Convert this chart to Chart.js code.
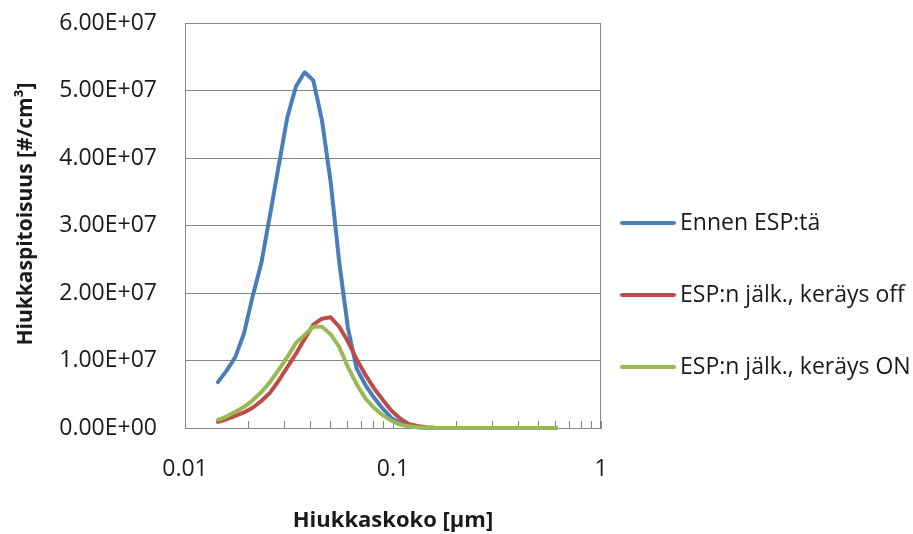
<!DOCTYPE html>
<html>
<head>
<meta charset="utf-8">
<script src="https://cdn.jsdelivr.net/npm/chart.js@4.4.1/dist/chart.umd.min.js"></script>
<style>
  html, body { margin: 0; padding: 0; background: #ffffff; }
  #wrap { width: 913px; height: 534px; }
</style>
</head>
<body>
<div id="wrap"><canvas id="c" width="913" height="534"></canvas></div>
<script>
// Particle size channels [µm]
const sizes = [
  0.01439, 0.01585, 0.01745, 0.01921, 0.02114, 0.02327, 0.02561, 0.02819, 0.03103, 0.03415,
  0.03759, 0.04138, 0.04555, 0.05013, 0.05518, 0.06074, 0.06686, 0.07359, 0.08100, 0.08916,
  0.09814, 0.1080, 0.1189, 0.1309, 0.1440, 0.1585, 0.1745, 0.1921, 0.2114, 0.2327,
  0.2561, 0.2819, 0.3103, 0.3415, 0.3759, 0.4138, 0.4555, 0.5013, 0.5518, 0.6074
];

// Number concentration [#/cm³] before the ESP
const beforeEsp = [
  6.8e6, 8.5e6, 1.05e7, 1.40e7, 1.95e7, 2.44e7, 3.15e7, 3.88e7, 4.60e7, 5.06e7,
  5.27e7, 5.15e7, 4.56e7, 3.65e7, 2.45e7, 1.48e7, 8.8e6, 6.4e6, 4.5e6, 2.9e6,
  1.5e6, 7.0e5, 3.0e5, 1.0e5, 4.0e4, 1.0e4, 0, 0, 0, 0,
  0, 0, 0, 0, 0, 0, 0, 0, 0, 0
];

// After the ESP, collection off
const afterOff = [
  9.0e5, 1.3e6, 1.8e6, 2.3e6, 3.0e6, 4.0e6, 5.2e6, 7.0e6, 9.0e6, 1.10e7,
  1.32e7, 1.53e7, 1.62e7, 1.64e7, 1.50e7, 1.28e7, 1.02e7, 7.9e6, 5.9e6, 4.2e6,
  2.6e6, 1.4e6, 6.0e5, 3.0e5, 1.0e5, 3.0e4, 1.0e4, 0, 0, 0,
  0, 0, 0, 0, 0, 0, 0, 0, 0, 0
];

// After the ESP, collection ON
const afterOn = [
  1.2e6, 1.7e6, 2.4e6, 3.1e6, 4.1e6, 5.3e6, 6.8e6, 8.6e6, 1.05e7, 1.26e7,
  1.38e7, 1.50e7, 1.50e7, 1.39e7, 1.20e7, 9.0e6, 6.5e6, 4.4e6, 3.0e6, 1.9e6,
  1.1e6, 5.0e5, 2.5e5, 1.0e5, 3.0e4, 1.0e4, 0, 0, 0, 0,
  0, 0, 0, 0, 0, 0, 0, 0, 0, 0
];

const seriesNames = ['Ennen ESP:tä', 'ESP:n jälk., keräys off', 'ESP:n jälk., keräys ON'];
const seriesColors = ['#4a7ebb', '#be4b48', '#98b954'];
const xTickLabels = ['0.01', '0.1', '1'];
const xTitle = 'Hiukkaskoko [µm]';
const yTitle = 'Hiukkaspitoisuus [#/cm³]';

const FONT = '"Open Sans", "DejaVu Sans", sans-serif';
const GRID = '#868686';
const TEXT = '#1a1a1a';

function toPoints(values) {
  return sizes.map((s, i) => ({ x: s, y: values[i] }));
}

function expLabel(v) {
  // 6.00E+07 style
  const s = Number(v).toExponential(2).toUpperCase();
  const [m, e] = s.split('E');
  const sign = e[0] === '-' ? '-' : '+';
  const digits = e.replace(/[+-]/, '').padStart(2, '0');
  return m + 'E' + sign + digits;
}

const decorations = {
  id: 'decorations',
  beforeDatasetsDraw(chart) {
    const { ctx, chartArea: a, scales: { x } } = chart;
    ctx.save();
    ctx.strokeStyle = GRID;
    ctx.lineWidth = 1;
    ctx.beginPath();
    // plot frame
    ctx.rect(Math.round(a.left) + 0.5, Math.round(a.top) + 0.5,
             Math.round(a.right - a.left) - 1, Math.round(a.bottom - a.top));
    // inward minor tick marks along the size axis
    x.ticks.forEach(t => {
      const px = Math.round(x.getPixelForValue(t.value)) + 0.5;
      ctx.moveTo(px, a.bottom);
      ctx.lineTo(px, a.bottom - 7);
    });
    ctx.stroke();
    ctx.restore();
  },
  afterDraw(chart) {
    const { ctx } = chart;
    ctx.save();
    // y axis title
    ctx.font = 'bold 21px ' + FONT;
    ctx.fillStyle = TEXT;
    ctx.textAlign = 'center';
    ctx.textBaseline = 'middle';
    ctx.translate(26, 214);
    ctx.rotate(-Math.PI / 2);
    ctx.fillText(yTitle, 0, 0);
    ctx.restore();

    // legend
    ctx.save();
    ctx.font = '23px ' + FONT;
    ctx.textAlign = 'left';
    ctx.textBaseline = 'middle';
    const rows = [223, 295, 367];
    chart.data.datasets.forEach((ds, i) => {
      const y = rows[i];
      ctx.strokeStyle = ds.borderColor;
      ctx.lineWidth = 4;
      ctx.lineCap = 'round';
      ctx.beginPath();
      ctx.moveTo(622, y);
      ctx.lineTo(674, y);
      ctx.stroke();
      ctx.fillStyle = TEXT;
      ctx.fillText(ds.label, 680, y);
    });
    ctx.restore();
  }
};

const datasets = [beforeEsp, afterOff, afterOn].map((vals, i) => ({
  label: seriesNames[i],
  data: toPoints(vals),
  borderColor: seriesColors[i],
  backgroundColor: seriesColors[i],
  borderWidth: 4,
  pointRadius: 0,
  tension: 0,
  fill: false,
  clip: 6,
  borderJoinStyle: 'round',
  borderCapStyle: 'round',
  order: 3 - i
}));

new Chart(document.getElementById('c'), {
  type: 'line',
  data: { datasets },
  options: {
    responsive: false,
    animation: false,
    devicePixelRatio: 1,
    layout: { padding: { top: 23, right: 312, left: 0, bottom: 0 } },
    plugins: {
      legend: { display: false },
      tooltip: { enabled: false }
    },
    scales: {
      x: {
        type: 'logarithmic',
        min: 0.01,
        max: 1,
        afterBuildTicks(scale) {
          const t = [];
          for (let d = 0.01; d < 1.5; d *= 10) {
            for (let k = 1; k <= 9; k++) {
              const v = +(k * d).toPrecision(3);
              if (v <= 1) t.push({ value: v });
            }
          }
          scale.ticks = t;
        },
        afterFit(scale) {
          scale.height = 106;
          scale.paddingLeft = 0;
          scale.paddingRight = 0;
        },
        grid: { display: false, drawTicks: false },
        border: { display: true, color: GRID },
        ticks: {
          autoSkip: false,
          maxRotation: 0,
          padding: 28,
          color: TEXT,
          font: { family: FONT, size: 23 },
          callback(v) {
            const lbl = String(+v.toPrecision(3));
            return xTickLabels.includes(lbl) ? lbl : '';
          }
        },
        title: {
          display: true,
          text: xTitle,
          color: TEXT,
          font: { family: FONT, size: 22, weight: 'bold' },
          padding: { top: 0, bottom: 0 }
        }
      },
      y: {
        min: 0,
        max: 6e7,
        afterFit(scale) {
          scale.width = 185;
          scale.paddingTop = 0;
          scale.paddingBottom = 0;
        },
        grid: { color: GRID, lineWidth: 1, drawTicks: false },
        border: { display: true, color: GRID },
        ticks: {
          stepSize: 1e7,
          padding: 28,
          color: TEXT,
          font: { family: FONT, size: 23 },
          callback: v => expLabel(v)
        }
      }
    }
  },
  plugins: [decorations]
});
</script>
</body>
</html>
